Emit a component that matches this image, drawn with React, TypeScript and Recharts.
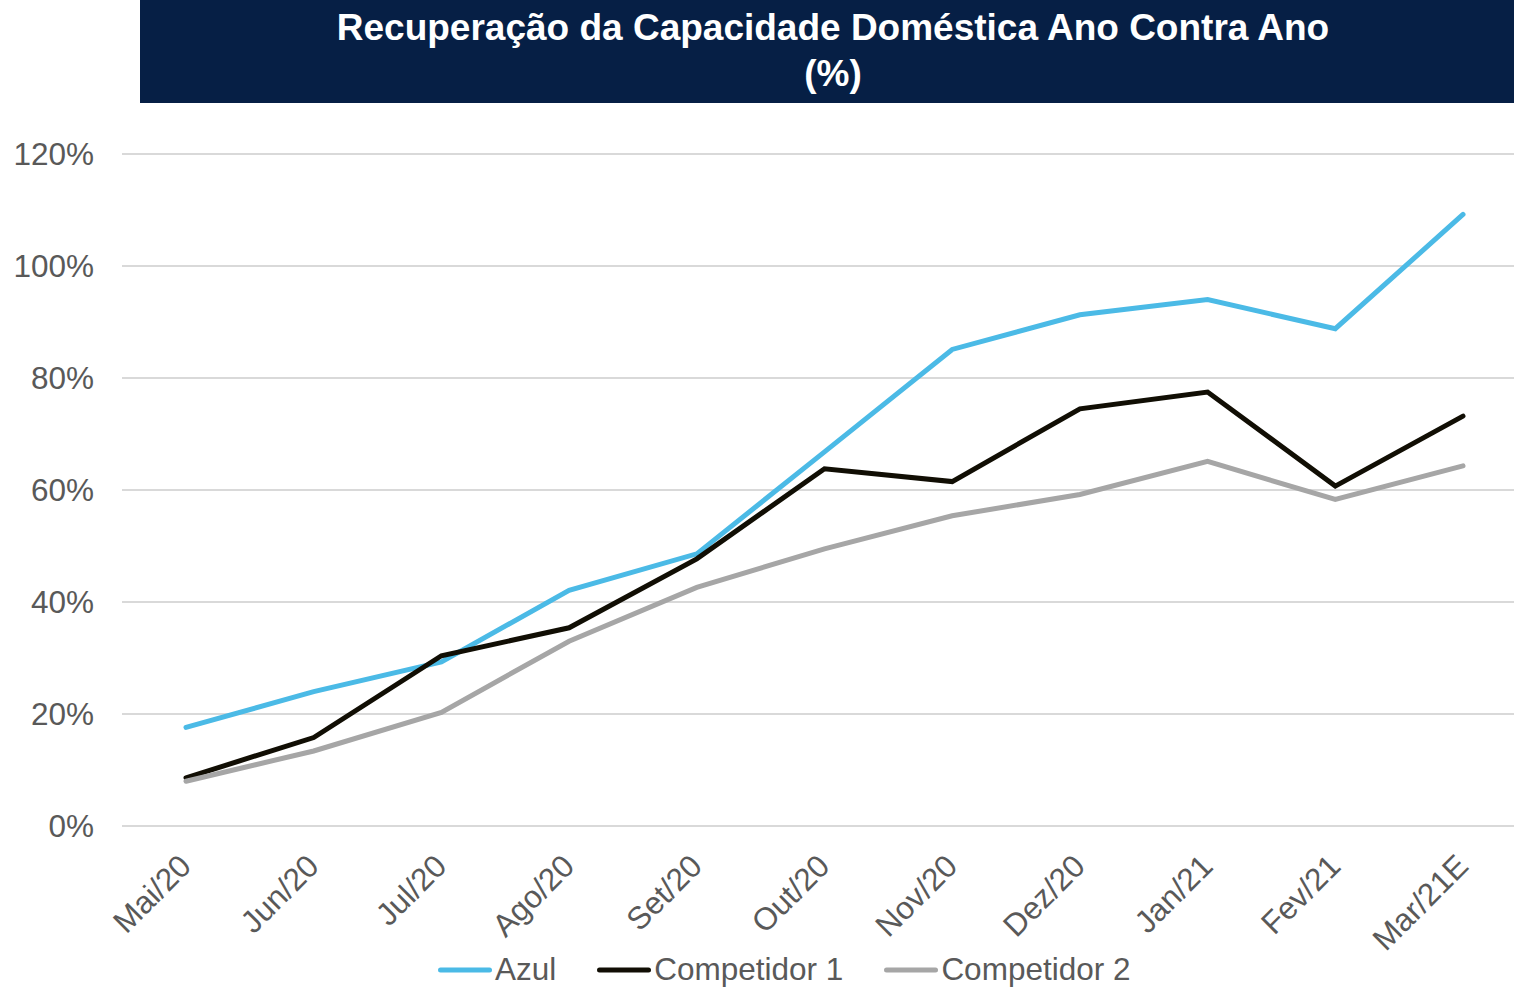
import React from "react";
import { CartesianGrid, Legend, Line, LineChart, XAxis, YAxis } from "recharts";

const months = [
    "Mai/20",
    "Jun/20",
    "Jul/20",
    "Ago/20",
    "Set/20",
    "Out/20",
    "Nov/20",
    "Dez/20",
    "Jan/21",
    "Fev/21",
    "Mar/21E",
];
const azul = [17.6, 24.0, 29.3, 42.1, 48.6, 66.8, 85.1, 91.3, 94.0, 88.8, 109.2];
const competidor1 = [8.6, 15.8, 30.4, 35.4, 47.7, 63.8, 61.5, 74.5, 77.5, 60.7, 73.2];
const competidor2 = [8.0, 13.4, 20.3, 33.0, 42.6, 49.5, 55.4, 59.2, 65.1, 58.3, 64.3];
const yTicks = [0, 20, 40, 60, 80, 100, 120];

const data = months.map((name, i) => ({
    name,
    azul: azul[i],
    c1: competidor1[i],
    c2: competidor2[i],
}));

const FONT = "'Liberation Sans', Arial, sans-serif";
const TEXT = "#595959";
const SIZE = 31.5;

const MonthTick = (props: any) => {
    const { x, y, payload } = props;
    const tx = x + 7;
    const ty = y + 42;
    return (
        <text
            x={tx}
            y={ty}
            transform={`rotate(-45 ${tx} ${ty})`}
            textAnchor="end"
            fill={TEXT}
            fontSize={SIZE}
            fontFamily={FONT}
        >
            {payload.value}
        </text>
    );
};

const renderLegend = (props: any) => {
    const { payload } = props;
    return (
        <div
            style={{
                display: "flex",
                alignItems: "center",
                fontFamily: FONT,
                fontSize: SIZE,
                color: TEXT,
                whiteSpace: "nowrap",
            }}
        >
            {payload.map((item: any) => (
                <div
                    key={item.value}
                    style={{ display: "flex", alignItems: "center", marginRight: 41 }}
                >
                    <svg width={54} height={10}>
                        <line
                            x1={2.5}
                            y1={5}
                            x2={51.5}
                            y2={5}
                            stroke={item.color}
                            strokeWidth={5}
                            strokeLinecap="round"
                        />
                    </svg>
                    <span style={{ marginLeft: 3 }}>{item.value}</span>
                </div>
            ))}
        </div>
    );
};

export default function App() {
    return (
        <div
            style={{
                position: "absolute",
                left: 0,
                top: 0,
                width: 1514,
                height: 988,
                overflow: "hidden",
                background: "#ffffff",
            }}
        >
            <div
                style={{
                    position: "absolute",
                    left: 140,
                    top: 0,
                    width: 1374,
                    height: 103,
                    background: "#061f45",
                    color: "#ffffff",
                    fontFamily: FONT,
                    fontWeight: "bold",
                    fontSize: 37,
                    lineHeight: "46px",
                    textAlign: "center",
                    paddingTop: 5,
                    boxSizing: "border-box",
                    zIndex: 2,
                }}
            >
                <div style={{ marginLeft: 12 }}>Recuperação da Capacidade Doméstica Ano Contra Ano</div>
                <div style={{ marginLeft: 12 }}>(%)</div>
            </div>
            <LineChart
                width={1527}
                height={988}
                data={data}
                margin={{ top: 154, right: 0, bottom: 0, left: 0 }}
            >
                <CartesianGrid
                    vertical={false}
                    stroke="#d9d9d9"
                    strokeWidth={2}
                />
                <XAxis
                    dataKey="name"
                    height={162}
                    padding={{ left: 64, right: 64 }}
                    tickLine={false}
                    axisLine={false}
                    tickSize={0}
                    tickMargin={0}
                    interval={0}
                    tick={<MonthTick />}
                />
                <YAxis
                    width={122}
                    domain={[0, 120]}
                    ticks={yTicks}
                    tickLine={false}
                    axisLine={false}
                    tickSize={0}
                    tickMargin={28}
                    tickFormatter={(v) => `${v}%`}
                    tick={{ fill: TEXT, fontSize: SIZE, fontFamily: FONT }}
                />
                <Legend
                    verticalAlign="middle"
                    align="center"
                    content={renderLegend}
                    wrapperStyle={{ left: 438, top: 951, width: "auto", height: "auto" }}
                />
                <Line
                    name="Azul"
                    dataKey="azul"
                    type="linear"
                    stroke="#4bbae6"
                    strokeWidth={5}
                    strokeLinecap="round"
                    dot={false}
                    activeDot={false}
                    isAnimationActive={false}
                />
                <Line
                    name="Competidor 1"
                    dataKey="c1"
                    type="linear"
                    stroke="#110e04"
                    strokeWidth={5}
                    strokeLinecap="round"
                    dot={false}
                    activeDot={false}
                    isAnimationActive={false}
                />
                <Line
                    name="Competidor 2"
                    dataKey="c2"
                    type="linear"
                    stroke="#a6a6a6"
                    strokeWidth={5}
                    strokeLinecap="round"
                    dot={false}
                    activeDot={false}
                    isAnimationActive={false}
                />
            </LineChart>
        </div>
    );
}
